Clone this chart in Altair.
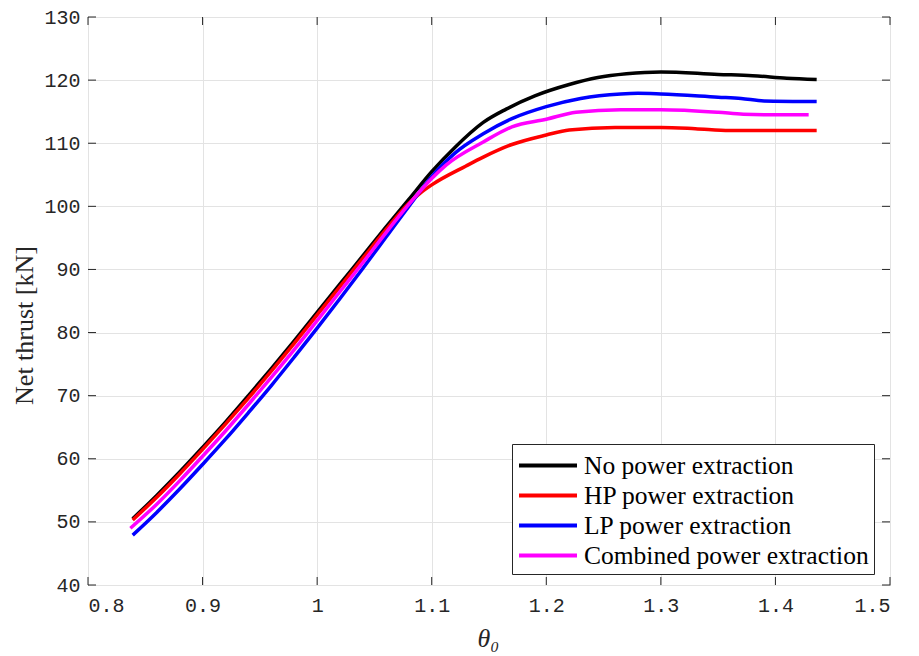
import altair as alt
import pandas as pd

# ---------------- data ----------------
series_names = ["No power extraction", "HP power extraction",
                "LP power extraction", "Combined power extraction"]
series_colors = ["#000000", "#ff0000", "#0000ff", "#ff00ff"]

no_theta = [0.839, 0.86, 0.88, 0.90, 0.92, 0.94, 0.96, 0.98, 1.00, 1.02, 1.04,
            1.06, 1.08, 1.10, 1.12, 1.145, 1.165, 1.19, 1.22, 1.245, 1.27,
            1.30, 1.35, 1.38, 1.41, 1.436]
no_thrust = [50.5, 54.2, 57.9, 61.8, 65.8, 70.0, 74.3, 78.7, 83.2, 87.7, 92.2,
             96.7, 101.1, 105.5, 109.3, 113.3, 115.4, 117.5, 119.3, 120.4, 121.0,
             121.3, 120.9, 120.7, 120.3, 120.1]

hp_theta = [0.839, 0.86, 0.88, 0.90, 0.92, 0.94, 0.96, 0.98, 1.00, 1.02, 1.04,
            1.06, 1.08, 1.09, 1.10, 1.13, 1.145, 1.17, 1.20, 1.22, 1.26, 1.30,
            1.33, 1.36, 1.40, 1.436]
hp_thrust = [50.3, 53.9, 57.6, 61.5, 65.5, 69.6, 73.9, 78.3, 82.8, 87.3, 91.8,
             96.3, 100.5, 102.1, 103.4, 106.4, 107.8, 109.8, 111.3, 112.1, 112.5,
             112.5, 112.3, 112.0, 112.0, 112.0]

lp_theta = [0.839, 0.86, 0.88, 0.90, 0.92, 0.94, 0.96, 0.98, 1.00, 1.02, 1.04,
            1.06, 1.08, 1.10, 1.12, 1.145, 1.17, 1.20, 1.23, 1.265, 1.28, 1.30,
            1.35, 1.37, 1.39, 1.436]
lp_thrust = [47.9, 51.5, 55.2, 59.1, 63.1, 67.3, 71.6, 76.1, 80.7, 85.4, 90.2,
             95.1, 100.0, 104.7, 108.4, 111.5, 113.9, 115.8, 117.1, 117.8, 117.9,
             117.8, 117.3, 117.1, 116.7, 116.6]

comb_theta = [0.837, 0.86, 0.88, 0.90, 0.92, 0.94, 0.96, 0.98, 1.00, 1.02, 1.04,
              1.06, 1.08, 1.10, 1.113, 1.145, 1.17, 1.20, 1.226, 1.265, 1.30,
              1.35, 1.372, 1.40, 1.429]
comb_thrust = [49.0, 52.8, 56.5, 60.4, 64.4, 68.6, 72.9, 77.3, 81.9, 86.5, 91.1,
               95.8, 100.3, 104.4, 106.6, 110.2, 112.6, 113.8, 114.9, 115.3, 115.3,
               114.9, 114.6, 114.5, 114.5]

x_ticks = [0.8, 0.9, 1.0, 1.1, 1.2, 1.3, 1.4, 1.5]
y_ticks = [40, 50, 60, 70, 80, 90, 100, 110, 120, 130]

# ---------------- tables ----------------
rows = []
for name, xs, ys in zip(series_names,
                        [no_theta, hp_theta, lp_theta, comb_theta],
                        [no_thrust, hp_thrust, lp_thrust, comb_thrust]):
    for i, (a, b) in enumerate(zip(xs, ys)):
        rows.append({"series": name, "theta": a, "thrust": b, "order": i})
df = pd.DataFrame(rows)
xt = pd.DataFrame({"v": x_ticks})
yt = pd.DataFrame({"v": y_ticks})

W, H = 802, 568
TICK = "#262626"
xscale = alt.Scale(domain=[0.8, 1.5], nice=False, zero=False)
yscale = alt.Scale(domain=[40, 130], nice=False, zero=False)

lines = alt.Chart(df).mark_line(strokeWidth=3.5, interpolate="monotone").encode(
    x=alt.X("theta:Q", scale=xscale,
            axis=alt.Axis(values=x_ticks, format="~g", title="θ₀",
                          titleFont="Liberation Serif", titleFontStyle="italic",
                          titleFontWeight="normal", titleFontSize=26,
                          titleColor="#262626", titleX=400, titleY=53,
                          titleBaseline="middle", titleAlign="center",
                          labelFont="Liberation Mono", labelFontSize=20,
                          labelColor=TICK, labelPadding=10, ticks=False,
                          domain=False, gridColor="#e3e3e3", gridWidth=1)),
    y=alt.Y("thrust:Q", scale=yscale,
            axis=alt.Axis(values=y_ticks, title="Net thrust [kN]",
                          titleFont="Liberation Serif", titleFontWeight="normal",
                          titleFontSize=26, titleColor="#262626",
                          titleAngle=-90, titleX=-64, titleY=308,
                          titleBaseline="middle", titleAlign="center",
                          labelFont="Liberation Mono", labelFontSize=20,
                          labelColor=TICK, labelPadding=8, ticks=False,
                          domain=False, gridColor="#e3e3e3", gridWidth=1)),
    color=alt.Color("series:N",
                    scale=alt.Scale(domain=series_names, range=series_colors),
                    legend=alt.Legend(title=None, orient="none", legendX=424,
                                      legendY=427, symbolType="M-1,0H3",
                                      symbolSize=841, symbolStrokeWidth=4,
                                      labelFont="Liberation Serif",
                                      labelFontSize=25.5, labelColor="#000000",
                                      labelLimit=0, labelOffset=34,
                                      strokeColor="#262626", fillColor="white",
                                      padding=5, rowPadding=-2)),
    detail="series:N",
    order="order:Q",
)

# inward tick marks on all four sides
lt = alt.Chart(yt).mark_rule(color=TICK, strokeWidth=1).encode(
    y=alt.Y("v:Q", scale=yscale), x=alt.value(0), x2=alt.value(8))
rt = alt.Chart(yt).mark_rule(color=TICK, strokeWidth=1).encode(
    y=alt.Y("v:Q", scale=yscale), x=alt.value(W - 8), x2=alt.value(W))
bt = alt.Chart(xt).mark_rule(color=TICK, strokeWidth=1).encode(
    x=alt.X("v:Q", scale=xscale), y=alt.value(H - 8), y2=alt.value(H))
tt = alt.Chart(xt).mark_rule(color=TICK, strokeWidth=1).encode(
    x=alt.X("v:Q", scale=xscale), y=alt.value(0), y2=alt.value(8))

chart = alt.layer(lines, lt, rt, bt, tt).properties(
    width=W, height=H,
    autosize=alt.AutoSizeParams(type="none"),
    padding={"left": 80, "top": 9, "right": 20, "bottom": 70},
    background="white",
).configure_view(stroke=TICK, strokeWidth=1)

chart.save("out.html", embed_options={"renderer": "svg", "actions": False})
